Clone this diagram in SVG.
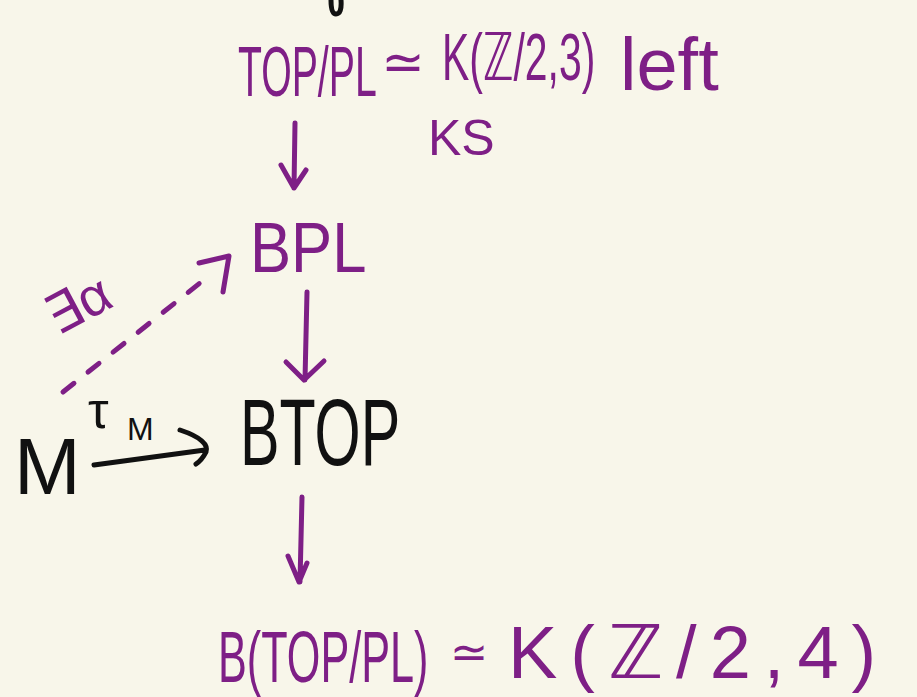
<svg xmlns="http://www.w3.org/2000/svg" width="917" height="697" viewBox="0 0 917 697">
  <style>
    .ink { font-family: "Liberation Sans", "DejaVu Sans", sans-serif; }
    .purple { fill: #7e1f86; }
    .black { fill: #111111; }
    .pstroke { fill: none; stroke: #7e1f86; stroke-width: 5; stroke-linecap: round; stroke-linejoin: round; }
    .bstroke { fill: none; stroke: #111111; stroke-width: 5; stroke-linecap: round; stroke-linejoin: round; }
  </style>
  <rect width="917" height="697" fill="#f8f6ea"/>

  <!-- stray stroke at top edge -->
  <path class="bstroke" d="M331 0 Q331 14 336 14 Q342 14 341 0"/>

  <g id="top-fiber">
    <text class="ink purple" font-size="70" transform="translate(238 96) scale(0.56 1)">TOP/PL</text>
    <text class="ink purple" x="403" y="80" font-size="52" text-anchor="middle">≃</text>
    <text class="ink purple" font-size="66" transform="translate(442 80) scale(0.62 1)">K(ℤ/2,3)</text>
    <text class="ink purple" x="620" y="90" font-size="74">left</text>
    <text class="ink purple" x="428" y="155" font-size="50">KS</text>
  </g>

  <g id="bpl">
    <text class="ink purple" font-size="70" transform="translate(250 272) scale(0.88 1)">BPL</text>
  </g>

  <g id="btop">
    <text class="ink black" font-size="94" transform="translate(240 465) scale(0.63 1)">BTOP</text>
  </g>

  <g id="m">
    <text class="ink black" x="14" y="494" font-size="80">M</text>
  </g>

  <g id="bottom">
    <text class="ink purple" font-size="72" transform="translate(218 682) scale(0.6 1)">B(TOP/PL)</text>
    <text class="ink purple" x="469" y="668" font-size="46" text-anchor="middle">≃</text>
    <text class="ink purple" x="508" y="678" font-size="74" letter-spacing="13">K(ℤ/2,4)</text>
  </g>

  <g id="connectors">
    <!-- TOP/PL to BPL -->
    <path class="pstroke" d="M295 123 L294 188 M281 165 L294 188 L306 170"/>
    <!-- BPL to BTOP -->
    <path class="pstroke" d="M307 292 L305 380 M286 362 L304 380 L324 361"/>
    <!-- BTOP to B(TOP/PL) -->
    <path class="pstroke" d="M302 497 L300 582 M288 556 L299 582 L307 563"/>
    <!-- dashed lift M to BPL -->
    <path class="pstroke" stroke-dasharray="14 18" d="M63 392 L200 283"/>
    <path class="pstroke" d="M199 263 L229 256 L223 292"/>
    <text class="ink purple" x="58" y="336" font-size="54" transform="rotate(-28 58 336)">∃α</text>
    <!-- tau_M : M to BTOP -->
    <path class="bstroke" d="M94 465 L205 450 M180 430 Q210 440 206 452 Q202 460 196 464"/>
    <text class="ink black" x="88" y="428" font-size="52">τ</text>
    <text class="ink black" x="127" y="440" font-size="32">M</text>
  </g>
</svg>
